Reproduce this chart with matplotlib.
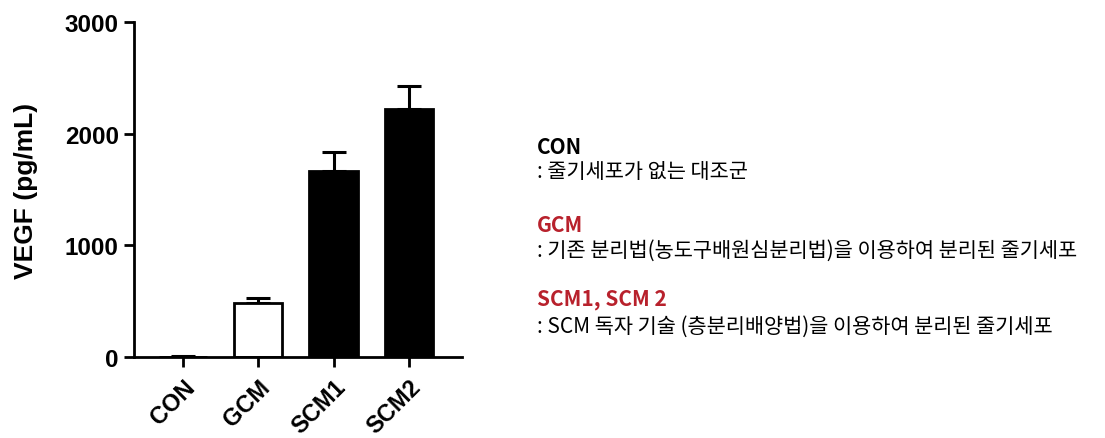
import matplotlib
matplotlib.use("Agg")
import matplotlib.pyplot as plt

# VEGF secretion per conditioned medium group
groups = ["CON", "GCM", "SCM1", "SCM2"]
vegf = [3, 480, 1670, 2225]
vegf_sem = [6, 45, 165, 200]
bar_faces = ["white", "white", "black", "black"]

y_ticks = [0, 1000, 2000, 3000]
y_label = "VEGF (pg/mL)"

# Group descriptions: (heading, heading colour, description)
notes = [
    ("CON", "black", ": 줄기세포가 없는 대조군"),
    ("GCM", "#b8212c", ": 기존 분리법(농도구배원심분리법)을 이용하여 분리된 줄기세포"),
    ("SCM1, SCM 2", "#b8212c", ": SCM 독자 기술 (층분리배양법)을 이용하여 분리된 줄기세포"),
]

fig = plt.figure(figsize=(11.05, 4.39), dpi=100)
ax = fig.add_axes([0.1213, 0.1845, 0.2967, 0.7631])

x = list(range(len(groups)))
ax.bar(x, vegf, width=0.64, color=bar_faces, edgecolor="black", linewidth=2.0, zorder=2)
ax.errorbar(x, vegf, yerr=[[0] * len(vegf), vegf_sem], fmt="none", ecolor="black",
            elinewidth=2.2, capsize=8.6, capthick=2.2, zorder=1)

ax.set_xlim(-0.65, 3.705)
ax.set_ylim(0, 3000)
ax.set_yticks(y_ticks)
ax.set_yticklabels([str(t) for t in y_ticks], fontsize=17.5, fontweight="bold",
                   family="Liberation Sans")
ax.set_xticks(x)
ax.set_xticklabels(groups, fontsize=17, fontweight="bold", family="Liberation Sans",
                   rotation=45, ha="right", rotation_mode="anchor")
ax.set_ylabel(y_label, fontsize=19, fontweight="bold", family="Liberation Sans", labelpad=19)

for side in ("top", "right"):
    ax.spines[side].set_visible(False)
for side in ("left", "bottom"):
    ax.spines[side].set_linewidth(2.0)
ax.tick_params(axis="both", direction="out", width=2.0, length=7, pad=4)
ax.tick_params(axis="x", pad=6)

# Description block to the right of the chart
kfont = ["Noto Sans CJK KR", "DejaVu Sans"]
line_y = [
    (147, 172),
    (226, 251),
    (300, 327),
]
for (head, col, desc), (y1, y2) in zip(notes, line_y):
    fig.text(537 / 1105, 1 - y1 / 439, head, color=col, fontsize=15, family=kfont,
             fontweight="bold", va="center", ha="left")
    fig.text(537 / 1105, 1 - y2 / 439, desc, color="black", fontsize=15, family=kfont,
             va="center", ha="left")

fig.savefig("out.png", dpi=100, facecolor="white")
